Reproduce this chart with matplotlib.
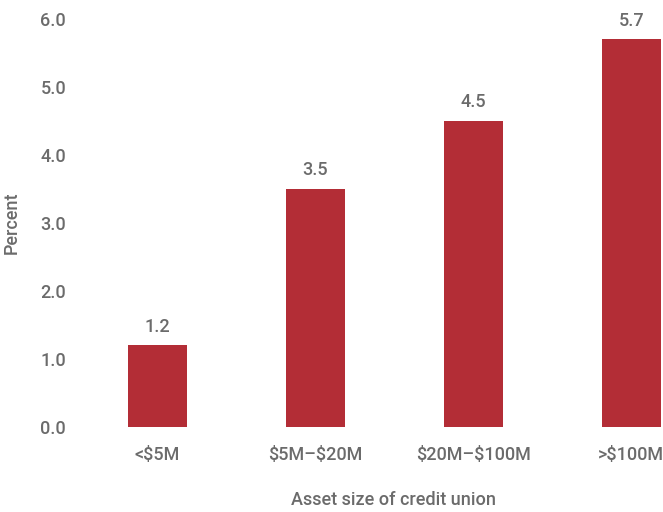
import matplotlib.pyplot as plt

categories = ["<$5M", "$5M\u2013$20M", "$20M\u2013$100M", ">$100M"]
values = [1.2, 3.5, 4.5, 5.7]

plt.rcParams["font.family"] = ["Roboto", "DejaVu Sans"]
plt.rcParams["font.weight"] = "medium"
plt.rcParams["axes.labelweight"] = "medium"
plt.rcParams["text.parse_math"] = False

bar_color = "#b32d36"
text_color = "#6b6b6b"

fig = plt.figure(figsize=(6.63, 5.12), dpi=100)
ax = fig.add_axes([80 / 663, 85 / 512, 583 / 663, 408 / 512])

x = range(len(categories))
bars = ax.bar(x, values, width=0.375, color=bar_color)
for rect, v in zip(bars, values):
    ax.annotate(f"{v:.1f}", (rect.get_x() + rect.get_width() / 2, v),
                xytext=(0, 7), textcoords="offset points",
                ha="center", va="bottom", fontsize=13, color=text_color)

ax.set_xlim(-0.49, 3.2)
ax.set_ylim(0, 6)
ax.set_yticks([0, 1, 2, 3, 4, 5, 6])
ax.set_yticklabels([f"{t:.1f}" for t in range(7)])
ax.set_xticks(list(x))
ax.set_xticklabels(categories)
ax.tick_params(axis="both", length=0, labelsize=13, labelcolor=text_color)
ax.tick_params(axis="x", pad=14)
ax.tick_params(axis="y", pad=10)
for s in ax.spines.values():
    s.set_visible(False)

ax.set_xlabel("Asset size of credit union", fontsize=13, color=text_color)
ax.xaxis.set_label_coords(314 / 583, -64 / 408)
ax.set_ylabel("Percent", fontsize=13, color=text_color, labelpad=14)

fig.savefig("out.png", dpi=100)
plt.close(fig)
